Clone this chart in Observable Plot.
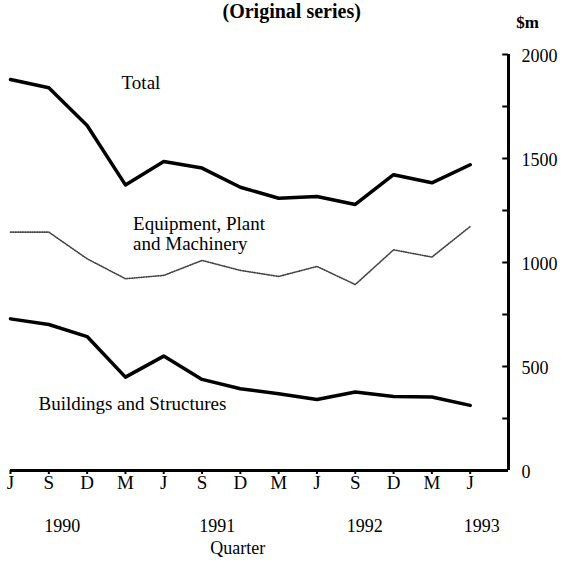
<!DOCTYPE html>
<html><head><meta charset="utf-8">
<script src="https://cdn.jsdelivr.net/npm/d3@7"></script>
<script src="https://cdn.jsdelivr.net/npm/@observablehq/plot@0.6"></script>
<style>body{margin:0;background:#fff}</style>
</head><body><div id="chart"></div>
<script>
const quarters = ["J","S","D","M","J","S","D","M","J","S","D","M","J"];
const total     = [1880,1840,1659,1373,1486,1454,1362,1309,1317,1279,1422,1383,1470];
const equipment = [1146,1146,1018, 922, 938,1010, 962, 933, 981, 894,1061,1026,1173];
const buildings = [ 729, 702, 644, 449, 550, 438, 393, 369, 341, 377, 356, 353, 313];
const years = ["1990","1991","1992","1993"];
const yearPos = [1.35, 5.4, 9.25, 12.3];
const yTicks = [0, 500, 1000, 1500, 2000];
const yAllTicks = [250, 500, 750, 1000, 1250, 1500, 1750, 2000];
const seriesLabels = [
  {x: 2.9, y: 1865, text: "Total"},
  {x: 3.2, y: 1137, text: "Equipment, Plant\nand Machinery"},
  {x: 0.73, y: 322, text: "Buildings and Structures"}
];

const idx = quarters.map((_, i) => i);
const rows = idx.map(i => ({i, total: total[i], equipment: equipment[i], buildings: buildings[i]}));

const chart = Plot.plot({
  width: 571,
  height: 563,
  marginLeft: 10,
  marginRight: 63,
  marginTop: 54,
  marginBottom: 93,
  style: {fontFamily: "'Liberation Serif', serif", fontSize: "18px", color: "#000", background: "#fff"},
  x: {domain: [0, 13]},
  y: {domain: [0, 2000]},
  marks: [
    Plot.axisX({ticks: idx, tickFormat: i => quarters[i], tickSize: 4, tickPadding: 1, fontSize: 19, label: null, strokeWidth: 2}),
    Plot.axisY({anchor: "right", ticks: yTicks, tickFormat: d => String(d), tickSize: 0, tickPadding: 13, fontSize: 18, label: null, dy: 2}),
    Plot.ruleY(yAllTicks, {y: d => d, x1: 12.85, x2: 13, strokeWidth: 2}),
    Plot.ruleY([0], {x1: 0, x2: 13, strokeWidth: 3}),
    Plot.ruleX([13], {y1: 0, y2: 2000, strokeWidth: 3}),
    Plot.lineY(rows, {x: "i", y: "total", strokeWidth: 3.5, stroke: "#000"}),
    Plot.lineY(rows, {x: "i", y: "equipment", strokeWidth: 1.6, stroke: "#444", strokeDasharray: "1,1.4"}),
    Plot.lineY(rows, {x: "i", y: "buildings", strokeWidth: 3.5, stroke: "#000"}),
    Plot.text(seriesLabels, {x: "x", y: "y", text: "text", textAnchor: "start", fontSize: 19, lineHeight: 1.05}),
    Plot.text(years, {x: (d, k) => yearPos[k], y: () => -268, text: d => d, fontSize: 18}),
    Plot.text(["Quarter"], {x: () => 5.93, y: () => -375, text: d => d, fontSize: 18}),
    Plot.text(["(Original series)"], {x: () => 7.34, y: () => 2207, text: d => d, fontSize: 20, fontWeight: "bold"}),
    Plot.text(["$m"], {x: () => 13.5, y: () => 2154, text: d => d, fontSize: 17, fontWeight: "bold"})
  ]
});
document.getElementById("chart").append(chart);
</script>
</body></html>
